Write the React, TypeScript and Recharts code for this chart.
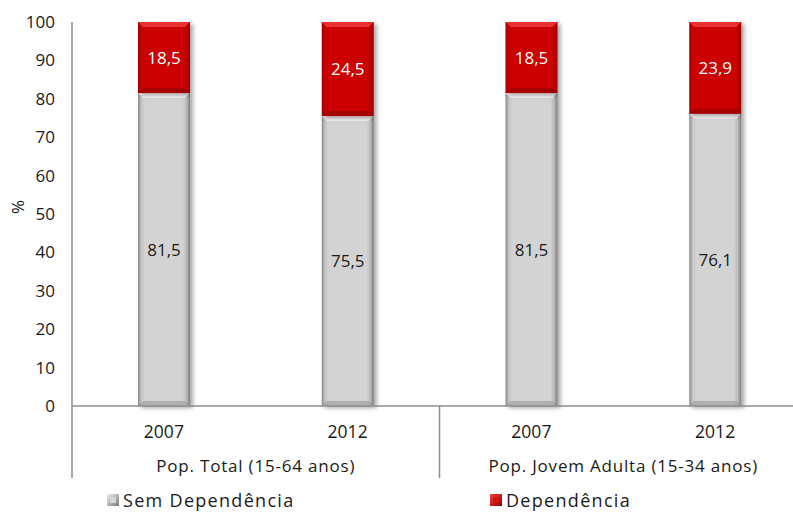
import { BarChart, Bar, XAxis, YAxis, LabelList, Legend } from 'recharts';

const years = ['2007', '2012', '2007', '2012'];
const groups = ['Pop. Total (15-64 anos)', 'Pop. Jovem Adulta (15-34 anos)'];
const semDependencia = [81.5, 75.5, 81.5, 76.1];
const dependencia = [18.5, 24.5, 18.5, 23.9];
const yTicks = [0, 10, 20, 30, 40, 50, 60, 70, 80, 90, 100];

const data = years.map((year, i) => ({
  year: `${year}-${i}`,
  label: year,
  sem: semDependencia[i],
  dep: dependencia[i],
}));

const CHART_W = 807;
const CHART_H = 513;
const Y_AXIS_W = 72;
const PLOT_W = CHART_W - Y_AXIS_W;
const BAND = PLOT_W / data.length;
const FONT = '"Open Sans", sans-serif';
const AXIS_COLOR = '#8c8c8c';
const TEXT = '#1a1a1a';

const fmt = (v: number) => v.toFixed(1).replace('.', ',');

function XTick(props: any) {
  const { x, y, payload, index } = props;
  const item = data[index];
  return (
    <g>
      <text x={x} y={y + 32} textAnchor="middle" fontSize={17.5} fontFamily={FONT} fill={TEXT}>
        {item ? item.label : payload.value}
      </text>
      {index % 2 === 0 && (
        <g>
          <line x1={x - BAND / 2} x2={x - BAND / 2} y1={y} y2={y + 72} stroke={AXIS_COLOR} strokeWidth={1.5} />
          <text
            x={x + BAND / 2}
            y={y + 66}
            textAnchor="middle"
            fontSize={17}
            letterSpacing={0.8}
            fontFamily={FONT}
            fill={TEXT}
          >
            {groups[index / 2]}
          </text>
        </g>
      )}
    </g>
  );
}

function makeShape(kind: 'grey' | 'red') {
  return (props: any) => {
    const { x, y, width, height } = props;
    if (!height || height <= 0) return <g />;
    const b = 5;
    const top = kind === 'grey' ? '#f4f4f4' : '#ee3b3b';
    const bottom = kind === 'grey' ? '#9a9a9a' : '#8e0000';
    return (
      <g filter="url(#shadow)">
        <rect x={x} y={y} width={width} height={height} fill={`url(#${kind}H)`} />
        <polygon
          points={`${x},${y} ${x + width},${y} ${x + width - b},${y + b} ${x + b},${y + b}`}
          fill={top}
          opacity={0.85}
        />
        <polygon
          points={`${x},${y + height} ${x + width},${y + height} ${x + width - b},${y + height - b} ${x + b},${y + height - b}`}
          fill={bottom}
          opacity={0.6}
        />
      </g>
    );
  };
}

function LegendContent() {
  const item = (left: number, grad: string, text: string) => (
    <div style={{ position: 'absolute', left, top: 2, display: 'flex', alignItems: 'center', height: 31 }}>
      <svg width={12} height={12} style={{ marginRight: 4 }}>
        <rect x={0} y={0} width={12} height={12} fill={`url(#${grad})`} />
        <rect x={3} y={3} width={6} height={6} fill={grad === 'legGrey' ? '#d6d6d6' : '#dd1111'} />
      </svg>
      <span style={{ fontFamily: FONT, fontSize: 18, letterSpacing: 1.3, color: TEXT }}>{text}</span>
    </div>
  );
  return (
    <div style={{ position: 'relative', width: 793, height: 31 }}>
      <svg width={0} height={0} style={{ position: 'absolute' }}>
        <defs>
          <linearGradient id="legGrey" x1="0" y1="0" x2="1" y2="1">
            <stop offset="0%" stopColor="#f0f0f0" />
            <stop offset="100%" stopColor="#7a7a7a" />
          </linearGradient>
          <linearGradient id="legRed" x1="0" y1="0" x2="1" y2="1">
            <stop offset="0%" stopColor="#ff4040" />
            <stop offset="100%" stopColor="#8a0000" />
          </linearGradient>
        </defs>
      </svg>
      {item(107, 'legGrey', 'Sem Dependência')}
      {item(490, 'legRed', 'Dependência')}
    </div>
  );
}

export default function App() {
  return (
    <div style={{ position: 'absolute', left: 0, top: 0, width: 793, height: CHART_H, overflow: 'hidden', background: '#fff' }}>
      <BarChart
        width={CHART_W}
        height={CHART_H}
        data={data}
        margin={{ top: 22, right: 0, left: 0, bottom: 0 }}
        barSize={52}
      >
        <defs>
          <linearGradient id="greyH" x1="0" y1="0" x2="1" y2="0">
            <stop offset="0%" stopColor="#8a8a8a" />
            <stop offset="7%" stopColor="#c8c8c8" />
            <stop offset="14%" stopColor="#d4d3d3" />
            <stop offset="86%" stopColor="#d4d3d3" />
            <stop offset="93%" stopColor="#bcbcbc" />
            <stop offset="100%" stopColor="#7c7c7c" />
          </linearGradient>
          <linearGradient id="redH" x1="0" y1="0" x2="1" y2="0">
            <stop offset="0%" stopColor="#a00000" />
            <stop offset="7%" stopColor="#c80000" />
            <stop offset="14%" stopColor="#cc0000" />
            <stop offset="86%" stopColor="#cc0000" />
            <stop offset="93%" stopColor="#c00000" />
            <stop offset="100%" stopColor="#980000" />
          </linearGradient>
          <filter id="shadow" x="-20%" y="-5%" width="150%" height="115%">
            <feDropShadow dx={3} dy={2} stdDeviation={2} floodColor="#000" floodOpacity={0.35} />
          </filter>
        </defs>
        <YAxis
          width={Y_AXIS_W}
          domain={[0, 100]}
          ticks={yTicks}
          interval={0}
          tickLine={false}
          tickMargin={11}
          axisLine={{ stroke: AXIS_COLOR, strokeWidth: 1.5 }}
          tick={{ fontSize: 17, fontFamily: FONT, fill: TEXT }}
          label={{
            value: '%',
            angle: -90,
            position: 'insideLeft',
            offset: 18,
            style: { fontSize: 17, fontFamily: FONT, fill: TEXT },
          }}
        />
        <XAxis
          dataKey="year"
          height={76}
          interval={0}
          tickLine={false}
          tickSize={0}
          tickMargin={0}
          axisLine={{ stroke: AXIS_COLOR, strokeWidth: 1.5 }}
          tick={<XTick />}
        />
        <Legend
          verticalAlign="bottom"
          wrapperStyle={{ left: 0, width: 793, height: 31 }}
          content={<LegendContent />}
        />
        <Bar dataKey="sem" stackId="a" isAnimationActive={false} shape={makeShape('grey')}>
          <LabelList
            dataKey="sem"
            position="center"
            formatter={(v: any) => fmt(Number(v))}
            style={{ fontSize: 17, fontFamily: FONT, fill: TEXT }}
          />
        </Bar>
        <Bar dataKey="dep" stackId="a" isAnimationActive={false} shape={makeShape('red')}>
          <LabelList
            dataKey="dep"
            position="center"
            formatter={(v: any) => fmt(Number(v))}
            style={{ fontSize: 17, fontFamily: FONT, fill: '#ffffff' }}
          />
        </Bar>
      </BarChart>
    </div>
  );
}
